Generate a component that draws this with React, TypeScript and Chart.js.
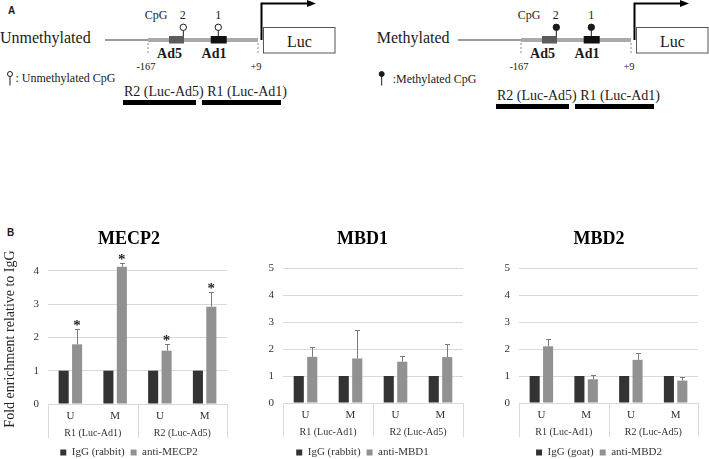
import React, { useEffect, useRef } from "react";
import { Chart, registerables } from "chart.js";

Chart.register(...registerables);

const SERIF = '"Liberation Serif", "Times New Roman", Times, serif';
const SANS = '"Liberation Sans", Arial, Helvetica, sans-serif';
const INK = "#1a1a1a";

// ---------- data ----------
const categories = ["U", "M", "U", "M"];
const regionGroups = ["R1 (Luc-Ad1)", "R2 (Luc-Ad5)"];
const iggValues = [1, 1, 1, 1];

const mecp2Values = [1.79, 4.12, 1.6, 2.92];
const mecp2Err = [0.45, 0.12, 0.19, 0.45];
const mecp2Sig = [true, true, true, true];

const mbd1Values = [1.71, 1.65, 1.53, 1.7];
const mbd1Err = [0.36, 1.07, 0.2, 0.48];
const mbd1Sig = [false, false, false, false];

const mbd2Values = [2.1, 0.88, 1.6, 0.83];
const mbd2Err = [0.28, 0.14, 0.25, 0.15];
const mbd2Sig = [false, false, false, false];

const yTicksMecp2 = [0, 1, 2, 3, 4];
const yTicksMbd = [0, 1, 2, 3, 4, 5];
const yAxisTitle = "Fold enrichment relative to IgG";

// ---------- styles ----------
const IGG_COLOR = "#333333";
const ANTI_COLOR = "#919191";
const ERR_COLOR = "#7a7a7a";
const GRID_COLOR = "#d9d9d9";
const TEXT_COLOR = "#333333";

const CANVAS_TOP = 220;
const CANVAS_H = 248;
const LEGEND_H = 27;

type PanelDef = {
  title: string;
  iggLabel: string;
  antiLabel: string;
  values: number[];
  err: number[];
  sig: boolean[];
  yMax: number;
  yTicks: number[];
  yTitle?: string;
  left: number;
  width: number;
  axisW: number;
  rightW: number;
  plotTop: number;
  plotBottom: number;
};

const panels: PanelDef[] = [
  {
    title: "MECP2",
    iggLabel: "IgG (rabbit)",
    antiLabel: "anti-MECP2",
    values: mecp2Values,
    err: mecp2Err,
    sig: mecp2Sig,
    yMax: 4.5,
    yTicks: yTicksMecp2,
    yTitle: yAxisTitle,
    left: 0,
    width: 258,
    axisW: 48,
    rightW: 31,
    plotTop: 254,
    plotBottom: 404,
  },
  {
    title: "MBD1",
    iggLabel: "IgG (rabbit)",
    antiLabel: "anti-MBD1",
    values: mbd1Values,
    err: mbd1Err,
    sig: mbd1Sig,
    yMax: 5,
    yTicks: yTicksMbd,
    left: 240,
    width: 245,
    axisW: 43,
    rightW: 22,
    plotTop: 268,
    plotBottom: 403,
  },
  {
    title: "MBD2",
    iggLabel: "IgG (goat)",
    antiLabel: "anti-MBD2",
    values: mbd2Values,
    err: mbd2Err,
    sig: mbd2Sig,
    yMax: 5,
    yTicks: yTicksMbd,
    left: 494,
    width: 210,
    axisW: 25,
    rightW: 6,
    plotTop: 268,
    plotBottom: 403,
  },
];

function extrasPlugin(def: PanelDef) {
  return {
    id: "panelExtras",
    afterDatasetsDraw(chart: any) {
      const ctx = chart.ctx;
      const yScale = chart.scales.y;
      const meta = chart.getDatasetMeta(1);
      ctx.save();
      // error bars + significance marks
      meta.data.forEach((bar: any, i: number) => {
        const top = Math.round(yScale.getPixelForValue(def.values[i] + def.err[i])) + 0.5;
        const x = Math.round(bar.x) + 0.5;
        ctx.strokeStyle = ERR_COLOR;
        ctx.lineWidth = 1;
        ctx.beginPath();
        ctx.moveTo(x, bar.y);
        ctx.lineTo(x, top);
        ctx.moveTo(x - 2.5, top);
        ctx.lineTo(x + 2.5, top);
        ctx.stroke();
        if (def.sig[i]) {
          ctx.fillStyle = "#1f1f1f";
          ctx.font = `bold 15px ${SERIF}`;
          ctx.textAlign = "center";
          ctx.textBaseline = "alphabetic";
          ctx.fillText("*", bar.x, top);
        }
      });
      // multi-level category box
      const { left, right, bottom, top } = chart.chartArea;
      const mid = (left + right) / 2;
      ctx.strokeStyle = GRID_COLOR;
      ctx.lineWidth = 1;
      [left, mid, right].forEach((px: number) => {
        const xx = Math.round(px) + 0.5;
        ctx.beginPath();
        ctx.moveTo(xx, bottom);
        ctx.lineTo(xx, bottom + 34);
        ctx.stroke();
      });
      ctx.fillStyle = TEXT_COLOR;
      ctx.font = `10px ${SERIF}`;
      ctx.textAlign = "center";
      ctx.textBaseline = "middle";
      regionGroups.forEach((g, gi) => {
        ctx.fillText(g, left + ((right - left) * (gi * 2 + 1)) / 4, bottom + 29.5);
      });
      // y-axis title
      if (def.yTitle) {
        ctx.translate(10, (top + bottom) / 2 + 10);
        ctx.rotate(-Math.PI / 2);
        ctx.font = `14px ${SERIF}`;
        ctx.fillStyle = "#262626";
        ctx.textAlign = "center";
        ctx.textBaseline = "middle";
        ctx.fillText(def.yTitle, 0, 0);
      }
      ctx.restore();
    },
  };
}

function BarPanel({ def }: { def: PanelDef }) {
  const ref = useRef<HTMLCanvasElement>(null);
  useEffect(() => {
    const canvas = ref.current;
    if (!canvas) return;
    const plotTopC = def.plotTop - CANVAS_TOP;
    const plotBottomC = def.plotBottom - CANVAS_TOP;
    const xH = CANVAS_H - LEGEND_H - plotBottomC;
    const chart = new Chart(canvas, {
      type: "bar",
      data: {
        labels: categories,
        datasets: [
          { label: def.iggLabel, data: iggValues, backgroundColor: IGG_COLOR, borderWidth: 0 },
          { label: def.antiLabel, data: def.values, backgroundColor: ANTI_COLOR, borderWidth: 0 },
        ],
      },
      options: {
        responsive: false,
        animation: false,
        devicePixelRatio: 1,
        layout: { padding: 0 },
        datasets: { bar: { categoryPercentage: 0.6, barPercentage: 0.75 } },
        plugins: {
          title: {
            display: true,
            text: def.title,
            color: "#000",
            font: { family: SERIF, size: 18, weight: "bold" },
            padding: { top: 9, bottom: plotTopC - 9 - 21.6 },
          },
          legend: {
            position: "bottom",
            labels: {
              boxWidth: 6,
              boxHeight: 6,
              padding: 6,
              color: TEXT_COLOR,
              font: { family: SERIF, size: 11 },
            },
          },
          tooltip: { enabled: false },
        },
        scales: {
          x: {
            grid: { display: false, drawTicks: false },
            border: { display: true, color: GRID_COLOR },
            ticks: {
              padding: 6,
              color: TEXT_COLOR,
              font: { family: SERIF, size: 11 },
              maxRotation: 0,
              autoSkip: false,
            },
            afterFit: (s: any) => {
              s.height = xH;
            },
          },
          y: {
            min: 0,
            max: def.yMax,
            grid: { color: GRID_COLOR, drawTicks: false },
            border: { display: false },
            ticks: {
              stepSize: 1,
              padding: 9,
              color: TEXT_COLOR,
              font: { family: SERIF, size: 11 },
            },
            afterBuildTicks: (s: any) => {
              s.ticks = s.ticks.filter((t: any) => def.yTicks.includes(t.value));
            },
            afterFit: (s: any) => {
              s.width = def.axisW;
            },
          },
          yPad: {
            type: "linear",
            position: "right",
            display: true,
            grid: { display: false, drawTicks: false },
            border: { display: false },
            ticks: { display: false },
            afterFit: (s: any) => {
              s.width = def.rightW;
            },
          },
        },
      } as any,
      plugins: [extrasPlugin(def)],
    });
    return () => chart.destroy();
  }, [def]);
  return (
    <canvas
      ref={ref}
      width={def.width}
      height={CANVAS_H}
      style={{
        position: "absolute",
        left: def.left,
        top: CANVAS_TOP,
        width: def.width,
        height: CANVAS_H,
      }}
    />
  );
}

type ConstructProps = {
  dx: number;
  label: string;
  labelX: number;
  lineStart: number;
  methylated: boolean;
  legendText: string;
  pinX: number;
  legendX: number;
  rowDy: number;
};

function Construct(p: ConstructProps) {
  const X = (v: number) => v + p.dx;
  const txt = { fontFamily: SERIF, fill: INK } as any;
  return (
    <g>
      <text x={p.labelX} y={43} fontSize={16} {...txt}>
        {p.label}
      </text>
      <line x1={p.lineStart} y1={40} x2={X(148)} y2={40} stroke="#7a7a7a" strokeWidth={1.3} />
      <rect x={X(148)} y={38} width={110} height={4} fill="#a9a9a9" />
      <rect x={X(169)} y={36} width={15} height={7.5} fill="#5c5c5c" />
      <rect x={X(210.7)} y={36} width={16} height={7.5} fill="#111" />
      <line x1={X(148)} y1={43} x2={X(148)} y2={53} stroke="#8a8a8a" strokeDasharray="2 2" />
      <line x1={X(258)} y1={43} x2={X(258)} y2={53} stroke="#8a8a8a" strokeDasharray="2 2" />
      {[183.3, 218.3].map((cx) => (
        <g key={cx}>
          <line x1={X(cx)} y1={30.5} x2={X(cx)} y2={36} stroke={INK} strokeWidth={1} />
          <circle cx={X(cx)} cy={27.3} r={3.2} fill={p.methylated ? INK : "#fff"} stroke={INK} strokeWidth={1} />
        </g>
      ))}
      <text x={X(156)} y={19} fontSize={12} textAnchor="middle" {...txt}>CpG</text>
      <text x={X(182.7)} y={19} fontSize={12} textAnchor="middle" {...txt}>2</text>
      <text x={X(218.3)} y={19} fontSize={12} textAnchor="middle" {...txt}>1</text>
      <text x={X(169.5)} y={58} fontSize={14} fontWeight="bold" textAnchor="middle" {...txt}>Ad5</text>
      <text x={X(214)} y={58} fontSize={14} fontWeight="bold" textAnchor="middle" {...txt}>Ad1</text>
      <text x={X(146)} y={69.5} fontSize={10.5} textAnchor="middle" {...txt}>-167</text>
      <text x={X(256)} y={69.5} fontSize={10.5} textAnchor="middle" {...txt}>+9</text>
      <polyline
        points={`${X(261.5)},40 ${X(261.5)},3.5 ${X(308)},3.5`}
        fill="none"
        stroke="#000"
        strokeWidth={2}
      />
      <polygon points={`${X(307)},0 ${X(316)},3.5 ${X(307)},7`} fill="#000" />
      <rect x={X(263.5)} y={27.5} width={71.5} height={25.5} fill="#fff" stroke="#555" strokeWidth={1} />
      <text x={X(299.5)} y={47} fontSize={16} textAnchor="middle" {...txt}>Luc</text>
      <line x1={p.pinX} y1={76} x2={p.pinX} y2={85.5} stroke={INK} strokeWidth={1} />
      <circle cx={p.pinX} cy={74} r={2.5} fill={p.methylated ? INK : "#fff"} stroke={INK} strokeWidth={1} />
      <text x={p.legendX} y={82 + p.rowDy * 0.25} fontSize={12} {...txt}>
        {p.legendText}
      </text>
      <text x={X(124)} y={96 + p.rowDy} fontSize={14} {...txt}>
        R2 (Luc-Ad5) R1 (Luc-Ad1)
      </text>
      <rect x={X(123)} y={100 + p.rowDy} width={73} height={5} fill="#000" />
      <rect x={X(202)} y={100 + p.rowDy} width={79} height={5} fill="#000" />
    </g>
  );
}

function Diagram() {
  return (
    <svg width={709} height={459} style={{ position: "absolute", left: 0, top: 0 }}>
      <text x={8} y={13.5} fontSize={10} fontWeight="bold" fontFamily={SANS} fill={INK}>
        A
      </text>
      <text x={7} y={235.5} fontSize={10} fontWeight="bold" fontFamily={SANS} fill={INK}>
        B
      </text>
      <Construct
        dx={0}
        label="Unmethylated"
        labelX={0}
        lineStart={105}
        methylated={false}
        legendText=": Unmethylated CpG"
        pinX={10}
        legendX={15.5}
        rowDy={0}
      />
      <Construct
        dx={373}
        label="Methylated"
        labelX={376.7}
        lineStart={458}
        methylated={true}
        legendText=":Methylated CpG"
        pinX={381.7}
        legendX={392.7}
        rowDy={4}
      />
    </svg>
  );
}

export default function App() {
  return (
    <div
      style={{
        position: "fixed",
        left: 0,
        top: 0,
        width: 709,
        height: 459,
        overflow: "hidden",
        background: "#fff",
      }}
    >
      <Diagram />
      {panels.map((p) => (
        <BarPanel key={p.title} def={p} />
      ))}
    </div>
  );
}
